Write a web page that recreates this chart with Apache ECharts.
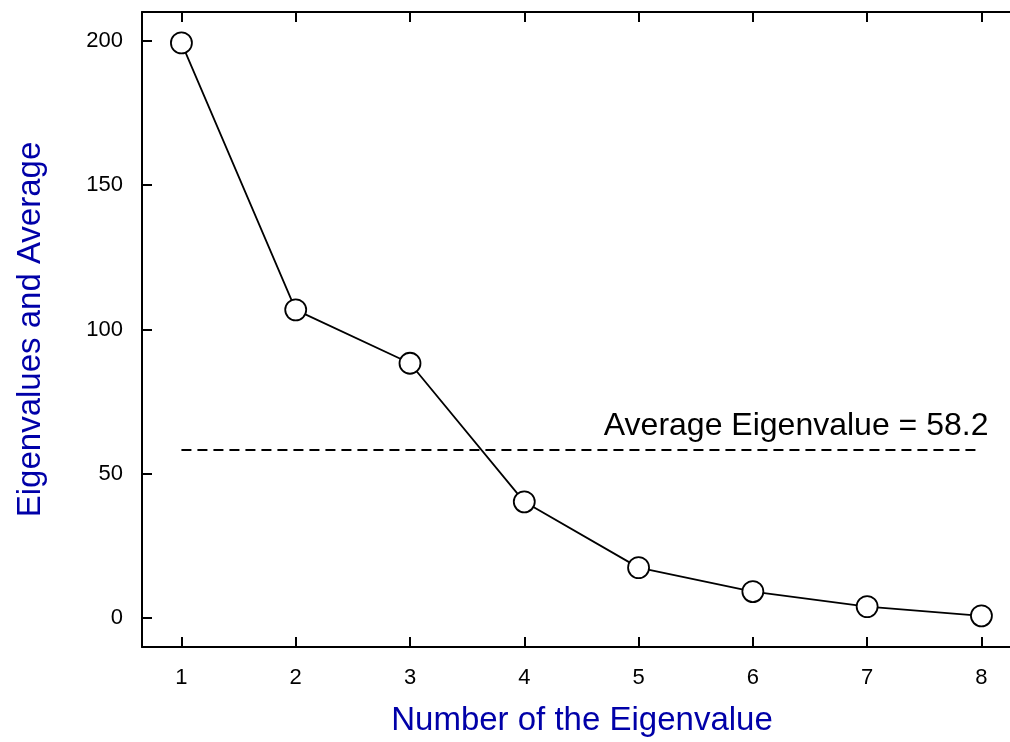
<!DOCTYPE html>
<html>
<head>
<meta charset="utf-8">
<script src="https://cdn.jsdelivr.net/npm/echarts@6/dist/echarts.min.js"></script>
<style>
  html, body { margin: 0; padding: 0; background: #fff; }
  #chart { width: 1010px; height: 742px; }
</style>
</head>
<body>
<div id="chart"></div>
<script>
// scree plot data
const eigenNumbers = [1, 2, 3, 4, 5, 6, 7, 8];
const eigenValues = [199.3, 106.8, 88.3, 40.3, 17.5, 9.2, 4.0, 0.8];
const averageValue = 58.2;
const xTicks = [1, 2, 3, 4, 5, 6, 7, 8];
const yTicks = [0, 50, 100, 150, 200];

const FONT = 'Liberation Sans, Arial, sans-serif';
const NAME_COLOR = '#0000a8';

const myChart = echarts.init(document.getElementById('chart'), null, {renderer: 'canvas'});

const points = eigenNumbers.map((n, i) => [n, eigenValues[i]]);

const axisLine = {show: true, onZero: false, lineStyle: {color: '#000', width: 2}};
const tickStyle = {color: '#000', width: 2};

const option = {
  animation: false,
  backgroundColor: '#fff',
  grid: {left: 142, right: 0, top: 12, bottom: 92},
  xAxis: [{
    type: 'value',
    position: 'bottom',
    min: 0.655,
    max: 8.25,
    name: 'Number of the Eigenvalue',
    nameLocation: 'middle',
    nameGap: 57,
    nameTextStyle: {color: NAME_COLOR, fontSize: 33, fontFamily: FONT, padding: [0, 0, 0, 12]},
    axisLine: axisLine,
    axisTick: {show: true, inside: true, length: 10, lineStyle: tickStyle, customValues: xTicks},
    axisLabel: {color: '#000', fontSize: 22, fontFamily: FONT, margin: 20, customValues: xTicks},
    splitLine: {show: false}
  }, {
    type: 'value',
    position: 'top',
    min: 0.655,
    max: 8.25,
    axisLine: axisLine,
    axisTick: {show: true, inside: true, length: 10, lineStyle: tickStyle, customValues: xTicks},
    axisLabel: {show: false},
    splitLine: {show: false}
  }],
  yAxis: {
    type: 'value',
    min: -10,
    max: 210,
    name: 'Eigenvalues and Average',
    nameLocation: 'middle',
    nameGap: 95,
    nameTextStyle: {color: NAME_COLOR, fontSize: 33, fontFamily: FONT},
    axisLine: axisLine,
    axisTick: {show: true, inside: true, length: 10, lineStyle: tickStyle, customValues: yTicks},
    axisLabel: {color: '#000', fontSize: 22, fontFamily: FONT, margin: 19, customValues: yTicks},
    splitLine: {show: false}
  },
  series: [{
    type: 'line',
    data: points,
    symbol: 'circle',
    symbolSize: 21,
    lineStyle: {color: '#000', width: 1.8},
    itemStyle: {color: '#fff', borderColor: '#000', borderWidth: 1.8},
    z: 3,
    markLine: {
      silent: true,
      symbol: ['none', 'none'],
      lineStyle: {color: '#000', width: 1.8, type: [10, 6]},
      label: {
        show: true,
        position: 'insideEndTop',
        formatter: 'Average Eigenvalue = ' + averageValue,
        color: '#000',
        fontSize: 32,
        fontFamily: FONT,
        distance: [-7, 8]
      },
      data: [[
        {coord: [eigenNumbers[0], averageValue]},
        {coord: [eigenNumbers[eigenNumbers.length - 1], averageValue]}
      ]]
    }
  }]
};

myChart.setOption(option);
</script>
</body>
</html>
